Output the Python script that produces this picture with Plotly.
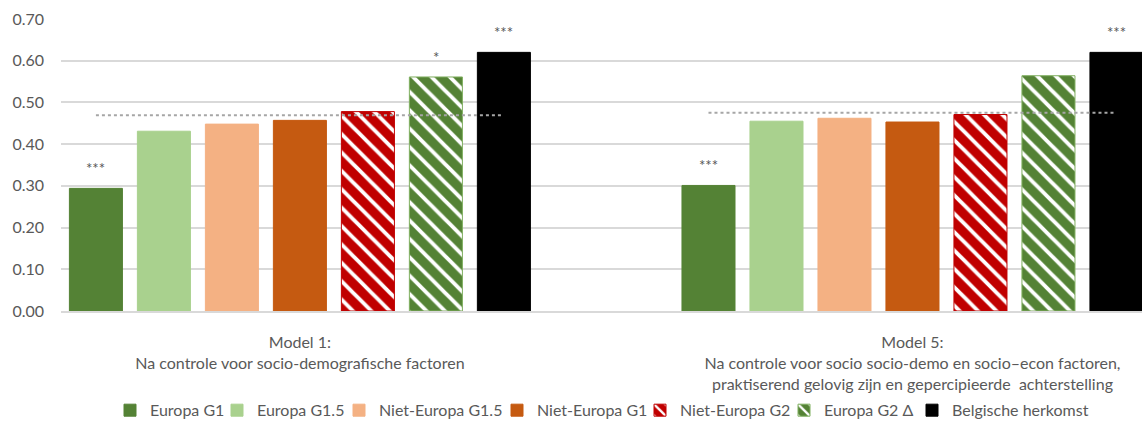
import plotly.graph_objects as go

categories = [
    "Model 1:<br>Na controle voor socio-demografische factoren",
    "Model 5:<br>Na controle voor socio socio-demo en socio–econ factoren,<br>praktiserend gelovig zijn en gepercipieerde  achterstelling",
]
series_names = ["Europa G1", "Europa G1.5", "Niet-Europa G1.5", "Niet-Europa G1",
                "Niet-Europa G2", "Europa G2 Δ", "Belgische herkomst"]
europa_g1 = [0.294, 0.301]
europa_g15 = [0.431, 0.455]
niet_europa_g15 = [0.448, 0.462]
niet_europa_g1 = [0.457, 0.453]
niet_europa_g2 = [0.478, 0.471]
europa_g2 = [0.561, 0.564]
belgisch = [0.620, 0.620]
signif_europa_g1 = ["***", "***"]
signif_europa_g2 = ["*", ""]
signif_belgisch = ["***", "***"]
reference_line = [0.469, 0.475]
y_ticks = [0.0, 0.1, 0.2, 0.3, 0.4, 0.5, 0.6, 0.7]

values = [europa_g1, europa_g15, niet_europa_g15, niet_europa_g1,
          niet_europa_g2, europa_g2, belgisch]
signif = [signif_europa_g1, None, None, None, None, signif_europa_g2, signif_belgisch]

# styling
colors = ["#548235", "#A9D18E", "#F4B183", "#C55A11", "#C00000", "#548235", "#000000"]
border = ["#548235", "#A9D18E", "#F4B183", "#C55A11", "#C00000", "#7FAF5F", "#000000"]
patterned = [False, False, False, False, True, True, False]
legend_widths = [62, 77, 113, 98, 99, 83, 136]

FONT = "Lato"
GREY = "#595959"
BARGAP = 0.223
xpos = list(range(len(categories)))
n = len(series_names)
gw = 1 - BARGAP
slot = gw / n

fig = go.Figure()
for k, (name, vals, col, bc, pat, lw) in enumerate(
        zip(series_names, values, colors, border, patterned, legend_widths)):
    marker = dict(color=col, line=dict(color=bc, width=1))
    if pat:
        marker["pattern"] = dict(shape="\\", fgcolor="white", bgcolor=col,
                                 size=13, solidity=0.3, fillmode="replace")
    fig.add_trace(go.Bar(name=name, x=xpos, y=vals, marker=marker, legendwidth=lw))

# significance stars above bars
for k, sig in enumerate(signif):
    if not sig:
        continue
    for i, s in enumerate(sig):
        if not s:
            continue
        xc = xpos[i] - gw / 2 + slot / 2 + k * slot
        fig.add_annotation(x=xc, y=values[k][i], text=s, showarrow=False,
                           yanchor="middle", yshift=20,
                           font=dict(size=15, color="#555555", family=FONT))

# dotted reference lines spanning the first to last bar centre of each group
for i, ref in enumerate(reference_line):
    x0 = xpos[i] - gw / 2 + slot / 2
    x1 = xpos[i] + gw / 2 - slot / 2
    fig.add_trace(go.Scatter(
        x=[x0, x1], y=[ref, ref], mode="lines", showlegend=False,
        line=dict(color="#A6A6A6", width=2, dash="dot"), hoverinfo="skip",
    ))

fig.update_layout(
    width=1142, height=432,
    margin=dict(l=61, r=0, t=19, b=121),
    paper_bgcolor="white", plot_bgcolor="white",
    barmode="group", bargap=BARGAP, bargroupgap=0.22,
    font=dict(family=FONT, color=GREY, size=16),
    legend=dict(orientation="h", x=0.5, xanchor="center", y=-0.34, yanchor="middle",
                font=dict(size=16, color=GREY, family=FONT),
                traceorder="normal", itemwidth=30),
    showlegend=True,
)
fig.update_xaxes(
    type="linear", range=[-0.390, 1.3747], tickvals=xpos, ticktext=categories,
    showgrid=False, zeroline=False, showline=True, linecolor="#D9D9D9", linewidth=2,
    ticks="", tickfont=dict(size=16, color=GREY, family=FONT), ticklabelstandoff=16,
)
fig.update_yaxes(
    range=[0, 0.7], tickvals=y_ticks, tickformat=".2f",
    showgrid=True, gridcolor="#D9D9D9", gridwidth=1.5, zeroline=False,
    tickfont=dict(size=16, color=GREY, family=FONT), ticklabelstandoff=16,
)

fig.write_html("out.html", config={"displayModeBar": False},
               post_script="document.body.style.margin='0';")
